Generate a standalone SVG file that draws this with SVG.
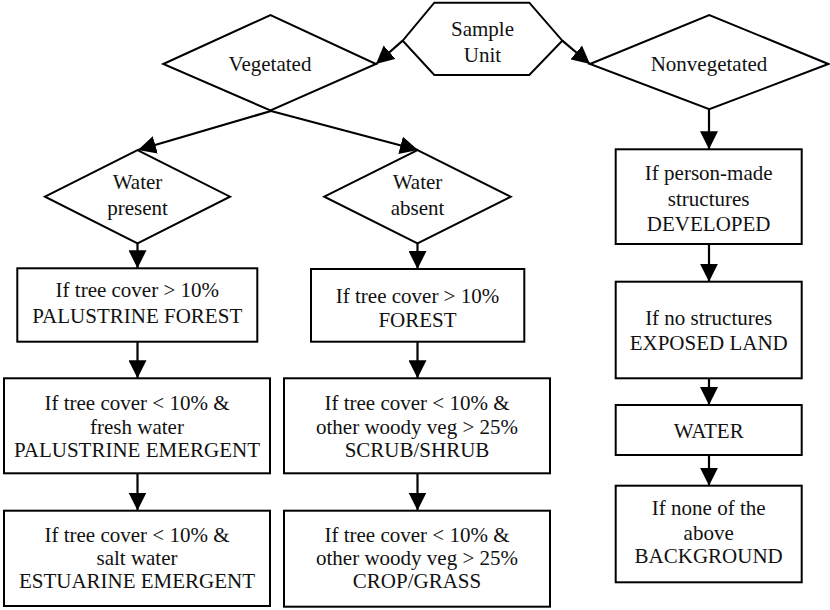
<svg xmlns="http://www.w3.org/2000/svg" width="830" height="610" viewBox="0 0 830 610">
<style>
.shape{fill:#fff;stroke:#000;stroke-width:2}
text{font-family:'Liberation Serif','DejaVu Serif','Times New Roman',serif;font-size:21px;fill:#111;text-anchor:middle}
.c{fill:none;stroke:#000;stroke-width:2.2;marker-end:url(#ah)}
</style>
<defs>
<marker id="ah" markerUnits="userSpaceOnUse" markerWidth="18" markerHeight="18" viewBox="0 0 18 18" refX="18" refY="9" orient="auto">
<path d="M0,0 L18,9 L0,18 Z" fill="#000"/>
</marker>
</defs>
<rect width="830" height="610" fill="#fff"/>

<g id="connectors">
<path class="c" d="M402.7,40.7 L376,64"/>
<path class="c" d="M562.3,40.7 L590,64"/>
<path class="c" d="M271,111 L138,150"/>
<path class="c" d="M271,111 L418,150"/>
<path class="c" d="M137.5,243.3 L137.5,268.3"/>
<path class="c" d="M417.5,243.3 L417.5,269"/>
<path class="c" d="M137.5,341.7 L137.5,378.3"/>
<path class="c" d="M137.5,473.3 L137.5,510.5"/>
<path class="c" d="M417.5,341.7 L417.5,378.3"/>
<path class="c" d="M417.5,473.3 L417.5,510.5"/>
<path class="c" d="M709,109.3 L709,149.3"/>
<path class="c" d="M709,244 L709,281.7"/>
<path class="c" d="M709,378.3 L709,405"/>
<path class="c" d="M709,455 L709,485.7"/>
</g>

<g id="sample-unit">
<polygon class="shape" points="434.3,2.7 529.3,2.7 562.3,40.7 529.3,75 434.3,75 402.7,40.7"/>
<text x="482.5" y="36">Sample</text>
<text x="482.5" y="61.7">Unit</text>
</g>

<g id="vegetated">
<polygon class="shape" points="163.3,64 270.5,15 376,64 270.5,110.5"/>
<text x="270" y="70.7">Vegetated</text>
</g>

<g id="nonvegetated">
<polygon class="shape" points="590,64 709.3,15 828.3,64 709.3,109.3"/>
<text x="709" y="70.7">Nonvegetated</text>
</g>

<g id="water-present">
<polygon class="shape" points="45,196.7 137.5,150 230,196.7 137.5,243.3"/>
<text x="137.5" y="189.3">Water</text>
<text x="137.5" y="215">present</text>
</g>

<g id="water-absent">
<polygon class="shape" points="324.3,196.7 417.5,150 510.7,196.7 417.5,243.3"/>
<text x="417.5" y="189.3">Water</text>
<text x="417.5" y="215">absent</text>
</g>

<g id="palustrine-forest">
<rect class="shape" x="17.3" y="268.3" width="240" height="73.4"/>
<text x="137.3" y="296.7">If tree cover &gt; 10%</text>
<text x="137.3" y="322.7">PALUSTRINE FOREST</text>
</g>

<g id="palustrine-emergent">
<rect class="shape" x="4" y="378.3" width="266" height="95"/>
<text x="137" y="410">If tree cover &lt; 10% &amp;</text>
<text x="137" y="433.5">fresh water</text>
<text x="137" y="457.3">PALUSTRINE EMERGENT</text>
</g>

<g id="estuarine-emergent">
<rect class="shape" x="4" y="510.7" width="266" height="95.3"/>
<text x="137" y="541.7">If tree cover &lt; 10% &amp;</text>
<text x="137" y="565">salt water</text>
<text x="137" y="588.3">ESTUARINE EMERGENT</text>
</g>

<g id="forest">
<rect class="shape" x="311" y="269" width="213.3" height="72.7"/>
<text x="417.5" y="302.7">If tree cover &gt; 10%</text>
<text x="417.5" y="326.7">FOREST</text>
</g>

<g id="scrub-shrub">
<rect class="shape" x="284" y="378.3" width="266" height="95"/>
<text x="417" y="410">If tree cover &lt; 10% &amp;</text>
<text x="417" y="433.5">other woody veg &gt; 25%</text>
<text x="417" y="457">SCRUB/SHRUB</text>
</g>

<g id="crop-grass">
<rect class="shape" x="284" y="510.7" width="266" height="96"/>
<text x="417" y="541.7">If tree cover &lt; 10% &amp;</text>
<text x="417" y="565">other woody veg &gt; 25%</text>
<text x="417" y="588.3">CROP/GRASS</text>
</g>

<g id="developed">
<rect class="shape" x="615.7" y="149.3" width="186" height="94.7"/>
<text x="708.7" y="180">If person-made</text>
<text x="708.7" y="206">structures</text>
<text x="708.7" y="230.7">DEVELOPED</text>
</g>

<g id="exposed-land">
<rect class="shape" x="615.7" y="281.7" width="186" height="96.6"/>
<text x="708.7" y="325">If no structures</text>
<text x="708.7" y="350">EXPOSED LAND</text>
</g>

<g id="water">
<rect class="shape" x="615.7" y="405" width="186" height="50"/>
<text x="708.7" y="438.3">WATER</text>
</g>

<g id="background">
<rect class="shape" x="615.7" y="485.7" width="186" height="96.6"/>
<text x="708.7" y="515">If none of the</text>
<text x="708.7" y="540">above</text>
<text x="708.7" y="563.3">BACKGROUND</text>
</g>
</svg>
